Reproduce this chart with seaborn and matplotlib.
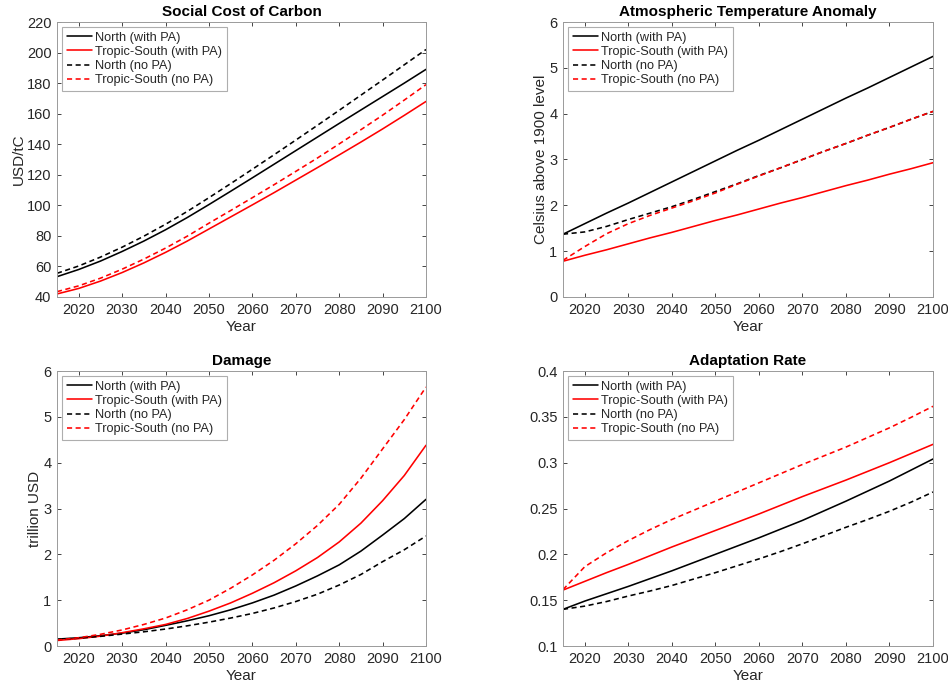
import numpy as np
import pandas as pd
import matplotlib
matplotlib.use("Agg")
import matplotlib.pyplot as plt
import seaborn as sns

years = [2015, 2020, 2025, 2030, 2035, 2040, 2045, 2050, 2055, 2060,
         2065, 2070, 2075, 2080, 2085, 2090, 2095, 2100]

# Social cost of carbon (USD/tC)
scc_north_pa = [53.3, 58.0, 63.5, 69.8, 76.6, 84.0, 92.0, 100.5, 109.2, 118.0,
                126.9, 135.8, 144.7, 153.6, 162.4, 171.2, 180.0, 189.0]
scc_trop_pa = [42.0, 45.6, 50.4, 56.0, 62.3, 69.2, 76.6, 84.5, 92.4, 100.3,
               108.3, 116.5, 124.7, 133.0, 141.4, 150.0, 158.9, 168.0]
scc_north_nopa = [55.5, 60.3, 66.1, 72.6, 79.8, 87.6, 96.0, 105.0, 114.2, 123.6,
                  133.1, 142.7, 152.4, 162.2, 172.1, 182.0, 192.0, 202.0]
scc_trop_nopa = [43.5, 47.3, 52.3, 58.2, 64.8, 72.0, 79.8, 88.3, 96.6, 105.0,
                 113.5, 122.2, 131.0, 140.2, 149.5, 159.0, 168.9, 179.0]

# Atmospheric temperature anomaly (Celsius above 1900 level)
tmp_north_pa = [1.37, 1.60, 1.83, 2.05, 2.28, 2.51, 2.74, 2.97, 3.20, 3.42,
                3.65, 3.88, 4.11, 4.34, 4.56, 4.79, 5.02, 5.25]
tmp_trop_pa = [0.78, 0.91, 1.03, 1.16, 1.29, 1.41, 1.54, 1.67, 1.79, 1.92,
               2.05, 2.17, 2.30, 2.43, 2.55, 2.68, 2.80, 2.93]
tmp_north_nopa = [1.37, 1.42, 1.54, 1.69, 1.83, 1.97, 2.13, 2.30, 2.47, 2.65,
                  2.82, 3.00, 3.18, 3.35, 3.53, 3.70, 3.88, 4.05]
tmp_trop_nopa = [0.80, 1.10, 1.38, 1.60, 1.78, 1.94, 2.10, 2.27, 2.46, 2.64,
                 2.82, 3.00, 3.18, 3.35, 3.53, 3.70, 3.88, 4.05]

# Damage (trillion USD)
dmg_north_pa = [0.15, 0.18, 0.225, 0.28, 0.355, 0.45, 0.55, 0.66, 0.79, 0.94,
                1.11, 1.31, 1.53, 1.77, 2.07, 2.42, 2.78, 3.20]
dmg_trop_pa = [0.12, 0.16, 0.215, 0.29, 0.375, 0.47, 0.60, 0.76, 0.94, 1.15,
               1.38, 1.64, 1.93, 2.27, 2.68, 3.17, 3.72, 4.38]
dmg_north_nopa = [0.14, 0.17, 0.21, 0.26, 0.31, 0.37, 0.44, 0.52, 0.61, 0.71,
                  0.83, 0.97, 1.13, 1.33, 1.56, 1.84, 2.10, 2.40]
dmg_trop_nopa = [0.13, 0.18, 0.255, 0.35, 0.47, 0.61, 0.79, 1.00, 1.26, 1.55,
                 1.87, 2.23, 2.63, 3.09, 3.66, 4.30, 4.94, 5.65]

# Adaptation rate
ad_north_pa = [0.140, 0.149, 0.157, 0.165, 0.1735, 0.182, 0.191, 0.200, 0.209, 0.218,
               0.2275, 0.237, 0.2475, 0.258, 0.269, 0.280, 0.292, 0.304]
ad_trop_pa = [0.161, 0.1705, 0.180, 0.189, 0.1985, 0.208, 0.217, 0.226, 0.235, 0.244,
              0.2535, 0.263, 0.272, 0.281, 0.2905, 0.300, 0.310, 0.320]
ad_north_nopa = [0.140, 0.1435, 0.1485, 0.1545, 0.160, 0.166, 0.173, 0.180, 0.1875, 0.195,
                 0.203, 0.2115, 0.2205, 0.2295, 0.238, 0.247, 0.257, 0.268]
ad_trop_nopa = [0.1615, 0.1865, 0.2017, 0.215, 0.227, 0.238, 0.248, 0.258, 0.268, 0.278,
                0.288, 0.298, 0.3075, 0.317, 0.3275, 0.338, 0.3495, 0.3615]

labels = ["North (with PA)", "Tropic-South (with PA)", "North (no PA)", "Tropic-South (no PA)"]
colors = ["black", "#ff0000", "black", "#ff0000"]
styles = ["-", "-", (0, (3.2, 2.2)), (0, (3.2, 2.2))]

x_ticks = [2020, 2030, 2040, 2050, 2060, 2070, 2080, 2090, 2100]

panels = [
    dict(title="Social Cost of Carbon", ylabel="USD/tC",
         series=[scc_north_pa, scc_trop_pa, scc_north_nopa, scc_trop_nopa],
         ylim=(40, 220), yticks=list(range(40, 221, 20)), fmt=None),
    dict(title="Atmospheric Temperature Anomaly", ylabel="Celsius above 1900 level",
         series=[tmp_north_pa, tmp_trop_pa, tmp_north_nopa, tmp_trop_nopa],
         ylim=(0, 6), yticks=[0, 1, 2, 3, 4, 5, 6], fmt=None),
    dict(title="Damage", ylabel="trillion USD",
         series=[dmg_north_pa, dmg_trop_pa, dmg_north_nopa, dmg_trop_nopa],
         ylim=(0, 6), yticks=[0, 1, 2, 3, 4, 5, 6], fmt=None),
    dict(title="Adaptation Rate", ylabel="",
         series=[ad_north_pa, ad_trop_pa, ad_north_nopa, ad_trop_nopa],
         ylim=(0.1, 0.4), yticks=[0.1, 0.15, 0.2, 0.25, 0.3, 0.35, 0.4],
         fmt=["0.1", "0.15", "0.2", "0.25", "0.3", "0.35", "0.4"]),
]

sns.set_theme(style="white")
plt.rcParams["font.family"] = ["Liberation Sans", "DejaVu Sans"]

W, H = 948, 686
fig = plt.figure(figsize=(W / 100, H / 100), dpi=100)
fig.patch.set_facecolor("white")

rects = [
    (57, 22, 426, 297),
    (563, 22, 933, 297),
    (57, 371, 426, 646),
    (563, 371, 933, 646),
]

for p, (l, t, r, b) in zip(panels, rects):
    ax = fig.add_axes([l / W, 1 - b / H, (r - l) / W, (b - t) / H])
    for vals, lab, c, ls in zip(p["series"], labels, colors, styles):
        df = pd.DataFrame({"Year": years, "v": vals})
        sns.lineplot(data=df, x="Year", y="v", color=c, linestyle=ls,
                     linewidth=1.15, label=lab, ax=ax)
    ax.set_xlim(2015, 2100)
    ax.set_ylim(*p["ylim"])
    ax.set_xticks(x_ticks)
    ax.set_yticks(p["yticks"])
    if p["fmt"]:
        ax.set_yticklabels(p["fmt"])
    ax.set_title(p["title"], fontsize=11, fontweight="bold", color="black", pad=4)
    ax.set_xlabel("Year", fontsize=11, color="#262626", labelpad=2.5)
    ax.set_ylabel(p["ylabel"], fontsize=11, color="#262626", labelpad=1)
    ax.tick_params(direction="in", length=3, width=0.6, colors="#262626",
                   labelsize=10.5, top=True, right=True, bottom=True, left=True,
                   pad=4)
    for s in ax.spines.values():
        s.set_visible(True)
        s.set_color("#9a9a9a")
        s.set_linewidth(0.7)
    leg = ax.legend(loc="upper left", fontsize=9.2, frameon=True, fancybox=False,
                    edgecolor="#9a9a9a", handlelength=2.0, handletextpad=0.25,
                    borderpad=0.35, labelspacing=0.18, borderaxespad=0.4)
    leg.get_frame().set_linewidth(0.8)
    for txt in leg.get_texts():
        txt.set_color("#262626")

fig.savefig("out.png", dpi=100, facecolor="white")
